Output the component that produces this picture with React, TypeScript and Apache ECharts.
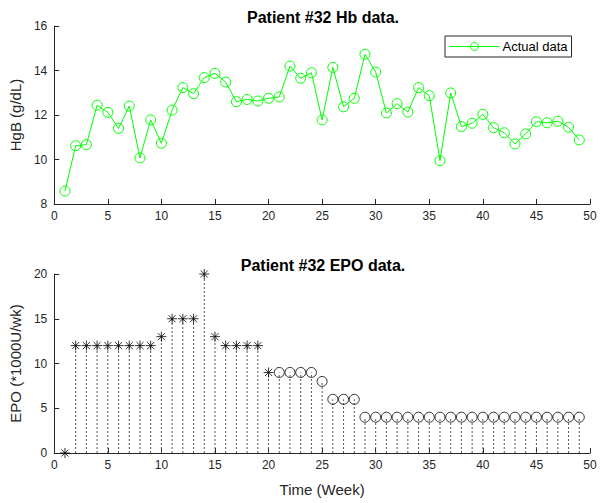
import React, { useEffect, useRef } from "react";
import * as echarts from "echarts";

const weeks = [1, 2, 3, 4, 5, 6, 7, 8, 9, 10, 11, 12, 13, 14, 15, 16, 17, 18, 19, 20, 21, 22, 23, 24, 25, 26, 27, 28, 29, 30, 31, 32, 33, 34, 35, 36, 37, 38, 39, 40, 41, 42, 43, 44, 45, 46, 47, 48, 49];
const hbValues = [8.58, 10.62, 10.67, 12.44, 12.12, 11.4, 12.4, 10.07, 11.78, 10.73, 12.22, 13.23, 12.96, 13.68, 13.87, 13.48, 12.6, 12.7, 12.63, 12.75, 12.81, 14.2, 13.65, 13.9, 11.78, 14.14, 12.37, 12.75, 14.73, 13.93, 12.09, 12.51, 12.13, 13.23, 12.87, 9.95, 12.99, 11.48, 11.63, 12.03, 11.43, 11.2, 10.7, 11.15, 11.7, 11.65, 11.72, 11.45, 10.88];
const epoValues = [0, 12, 12, 12, 12, 12, 12, 12, 12, 13, 15, 15, 15, 20, 13, 12, 12, 12, 12, 9, 9, 9, 9, 9, 8, 6, 6, 6, 4, 4, 4, 4, 4, 4, 4, 4, 4, 4, 4, 4, 4, 4, 4, 4, 4, 4, 4, 4, 4];
// marker type per week: "*" for asterisk, "o" for circle
const epoMarkers = ["*", "*", "*", "*", "*", "*", "*", "*", "*", "*", "*", "*", "*", "*", "*", "*", "*", "*", "*", "*", "o", "o", "o", "o", "o", "o", "o", "o", "o", "o", "o", "o", "o", "o", "o", "o", "o", "o", "o", "o", "o", "o", "o", "o", "o", "o", "o", "o", "o"];
const xTicks = { min: 0, max: 50, interval: 5 };
const hbTicks = { min: 8, max: 16, interval: 2 };
const epoTicks = { min: 0, max: 20, interval: 5 };

const FONT = "Liberation Sans, Arial, Helvetica, sans-serif";
const AX = "#262626";
const ASTERISK = "path://M0,-10L0,10M-10,0L10,0M-7.07,-7.07L7.07,7.07M-7.07,7.07L7.07,-7.07";

export default function App() {
  const ref = useRef<HTMLDivElement>(null);
  useEffect(() => {
    if (!ref.current) return;
    const chart = echarts.init(ref.current, null, { renderer: "svg" });
    const axisCommon = {
      axisLine: { show: true, onZero: false, lineStyle: { color: AX, width: 1 } },
      axisTick: { show: true, inside: true, length: 5, lineStyle: { color: AX } },
      axisLabel: { color: AX, fontSize: 12, fontFamily: FONT },
      splitLine: { show: false },
    };
    const hbData = weeks.map((w, i) => [w, hbValues[i]]);
    const starData = weeks.map((w, i) => [w, epoValues[i]]).filter((_, i) => epoMarkers[i] === "*");
    const circData = weeks.map((w, i) => [w, epoValues[i]]).filter((_, i) => epoMarkers[i] === "o");
    const stemData = weeks.map((w, i) => [w, epoValues[i]]);
    chart.setOption({
      animation: false,
      backgroundColor: "#ffffff",
      textStyle: { fontFamily: FONT },
      title: [
        { text: "Patient #32 Hb data.", left: 318, top: 4, textAlign: "center", textStyle: { fontSize: 16, fontWeight: "bold", color: "#000", fontFamily: FONT } },
        { text: "Patient #32 EPO data.", left: 318, top: 252, textAlign: "center", textStyle: { fontSize: 16, fontWeight: "bold", color: "#000", fontFamily: FONT } },
      ],
      legend: {
        data: ["Actual data"],
        left: 445,
        top: 36,
        orient: "horizontal",
        itemWidth: 50,
        itemHeight: 10,
        itemGap: 4,
        padding: [4, 4, 4, 4],
        borderColor: AX,
        borderWidth: 1,
        borderRadius: 0,
        backgroundColor: "#fff",
        lineStyle: { width: 1, color: "#00ff00" },
        itemStyle: { color: "transparent", borderColor: "#00ff00", borderWidth: 1 },
        textStyle: { fontSize: 13, color: "#000", fontFamily: FONT, padding: [0, 0, 0, -2] },
      },
      grid: [
        { left: 47, right: 15, top: 26, height: 178 },
        { left: 47, right: 15, top: 274, height: 179 },
      ],
      xAxis: [
        { type: "value", gridIndex: 0, ...xTicks, ...axisCommon, axisLabel: { ...axisCommon.axisLabel, margin: 6 } },
        {
          type: "value", gridIndex: 1, ...xTicks, ...axisCommon, axisLabel: { ...axisCommon.axisLabel, margin: 6 },
          name: "Time (Week)", nameLocation: "middle", nameGap: 29,
          nameTextStyle: { fontSize: 15, color: AX, fontFamily: FONT },
        },
      ],
      yAxis: [
        {
          type: "value", gridIndex: 0, ...hbTicks, ...axisCommon, axisLabel: { ...axisCommon.axisLabel, margin: 7 },
          name: "HgB (g/dL)", nameLocation: "middle", nameGap: 24,
          nameTextStyle: { fontSize: 15, color: AX, fontFamily: FONT },
        },
        {
          type: "value", gridIndex: 1, ...epoTicks, ...axisCommon, axisLabel: { ...axisCommon.axisLabel, margin: 7 },
          name: "EPO (*1000U/wk)", nameLocation: "middle", nameGap: 24,
          nameTextStyle: { fontSize: 15, color: AX, fontFamily: FONT },
        },
      ],
      series: [
        {
          name: "Actual data",
          type: "line",
          xAxisIndex: 0,
          yAxisIndex: 0,
          data: hbData,
          symbol: "circle",
          symbolSize: 10,
          lineStyle: { color: "#00ff00", width: 1 },
          itemStyle: { color: "transparent", borderColor: "#00ff00", borderWidth: 1 },
          clip: false,
        },
        {
          name: "stems",
          type: "custom",
          xAxisIndex: 1,
          yAxisIndex: 1,
          data: stemData,
          clip: false,
          renderItem: (params: any, api: any) => {
            const x = api.value(0);
            const v = api.value(1);
            const p0 = api.coord([x, 0]);
            const p1 = api.coord([x, v]);
            return {
              type: "line",
              shape: { x1: p0[0], y1: p0[1], x2: p1[0], y2: p1[1] },
              style: { stroke: "#555", lineWidth: 1, lineDash: [2, 2] },
            };
          },
          z: 1,
        },
        {
          name: "epoStar",
          type: "scatter",
          xAxisIndex: 1,
          yAxisIndex: 1,
          data: starData,
          symbol: ASTERISK,
          symbolSize: 10,
          symbolKeepAspect: true,
          itemStyle: { color: "transparent", borderColor: "#000", borderWidth: 1 },
          clip: false,
          z: 3,
        },
        {
          name: "epoCircle",
          type: "scatter",
          xAxisIndex: 1,
          yAxisIndex: 1,
          data: circData,
          symbol: "circle",
          symbolSize: 10,
          itemStyle: { color: "transparent", borderColor: "#000", borderWidth: 1 },
          clip: false,
          z: 3,
        },
      ],
    });
    return () => chart.dispose();
  }, []);
  return <div ref={ref} style={{ position: "absolute", left: 0, top: 0, width: 605, height: 503 }} />;
}
